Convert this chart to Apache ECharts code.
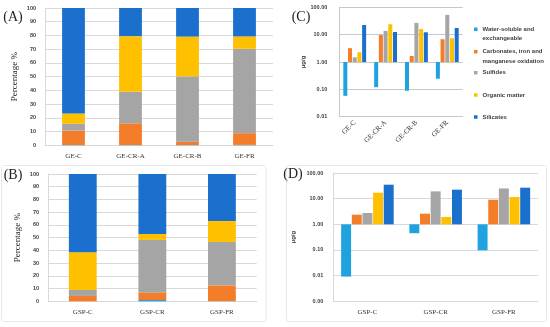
<!DOCTYPE html>
<html><head><meta charset="utf-8">
<script src="https://cdn.jsdelivr.net/npm/echarts@6/dist/echarts.min.js"></script>
<style>html,body{margin:0;padding:0;background:#fff}#c{width:550px;height:327px}</style>
</head><body><div id="c"></div>
<script>
// ---- data ----
const fractions = ['Water-soluble and exchangeable','Carbonates, iron and manganese oxidation','Sulfides','Organic matter','Silicates'];
const legendText = ['\nWater-soluble and\nexchangeable','\nCarbonates, iron and\nmanganese oxidation','Sulfides','Organic matter','Silicates'];
const colors = ['#1FA2DE','#F47D2A','#A5A5A5','#FFC000','#1A70CC'];

const catsGE = ['GE-C','GE-CR-A','GE-CR-B','GE-FR'];
const catsGSP = ['GSP-C','GSP-CR','GSP-FR'];

// Panel A: percentage (%)
const pctA_water = [0.2, 0.2, 0.15, 0.3];
const pctA_carb  = [10.5, 15.8, 2.5, 8.5];
const pctA_sulf  = [5, 23, 47.5, 61.5];
const pctA_org   = [7.5, 40.5, 29, 9];
const pctA_sil   = [76.8, 20.5, 20.85, 20.7];

// Panel B: percentage (%)
const pctB_water = [0.02, 1, 0.13];
const pctB_carb  = [4.2, 5.8, 12.4];
const pctB_sulf  = [4.7, 41.4, 34.1];
const pctB_org   = [29.6, 4.7, 16.4];
const pctB_sil   = [61.48, 47.1, 36.97];

// Panel C: concentration (µg/g)
const concC_water = [0.058, 0.12, 0.089, 0.245];
const concC_carb  = [3.2, 9.7, 1.66, 6.8];
const concC_sulf  = [1.48, 13.7, 27, 52.6];
const concC_org   = [2.27, 24, 16, 7.4];
const concC_sil   = [22.6, 12.5, 12.2, 17.6];

// Panel D: concentration (µg/g)
const concD_water = [0.0092, 0.45, 0.097];
const concD_carb  = [2.38, 2.6, 9.1];
const concD_sulf  = [2.77, 19.2, 25];
const concD_org   = [17, 1.94, 11.6];
const concD_sil   = [35, 22.4, 26.8];

// ---- chart ----
const chart = echarts.init(document.getElementById('c'), null, {renderer:'canvas'});
const serif = 'Liberation Serif';
const sans = 'Liberation Sans';
const tickFont = {fontSize:5.5, fontWeight:'bold', fontFamily:sans, color:'#404040'};
const catFont = {fontSize:7, fontFamily:serif, color:'#333'};
const gridCol = '#D9D9D9';

const setsA = [pctA_water,pctA_carb,pctA_sulf,pctA_org,pctA_sil];
const setsB = [pctB_water,pctB_carb,pctB_sulf,pctB_org,pctB_sil];
const setsC = [concC_water,concC_carb,concC_sulf,concC_org,concC_sil];
const setsD = [concD_water,concD_carb,concD_sulf,concD_org,concD_sil];

const series = [];
setsA.forEach((d,i)=>series.push({type:'bar',name:fractions[i],xAxisIndex:0,yAxisIndex:0,stack:'A',barWidth:'40%',data:d,itemStyle:{color:colors[i]},silent:true}));
setsB.forEach((d,i)=>series.push({type:'bar',name:fractions[i],xAxisIndex:1,yAxisIndex:1,stack:'B',barWidth:'40%',data:d,itemStyle:{color:colors[i]},silent:true}));
setsC.forEach((d,i)=>series.push({type:'bar',name:fractions[i],xAxisIndex:2,yAxisIndex:2,barGap:'17%',barCategoryGap:'26%',data:d,itemStyle:{color:colors[i]},silent:true}));
setsD.forEach((d,i)=>series.push({type:'bar',name:fractions[i],xAxisIndex:3,yAxisIndex:3,barGap:'7%',barCategoryGap:'23%',data:d,itemStyle:{color:colors[i]},silent:true}));

const legendY = [29.3, 51.7, 72.7, 95, 117];
const lh = 9.4;
const legends = fractions.map((f,i)=>{
  const lines = legendText[i].split('\n').length;
  return {
    data:[f], orient:'vertical', left:474, top: legendY[i] - lines*lh/2, padding:0,
    itemWidth:3.5, itemHeight:3.5, itemGap:3, icon:'rect', selectedMode:false,
    formatter:()=>legendText[i],
    textStyle:{fontSize:6, fontWeight:'bold', fontFamily:sans, color:'#404040', lineHeight:lh}
  };
});

const pctAxis = (name,gap)=>({type:'value',min:0,max:100,interval:10,
  axisLabel:Object.assign({margin:9},tickFont),
  axisLine:{show:true,lineStyle:{color:gridCol}},axisTick:{show:false},
  splitLine:{lineStyle:{color:gridCol,width:1}},
  name:name,nameLocation:'middle',nameGap:gap,
  nameTextStyle:{fontFamily:serif,fontSize:9,color:'#222'}});
const logAxis = (min,gap,lab,col)=>({type:'log',logBase:10,min:min,max:100,
  axisLabel:Object.assign({margin:lab,formatter:v=>Number(v).toFixed(2)},tickFont),
  axisLine:{show:true,lineStyle:{color:col}},axisTick:{show:false},
  splitLine:{lineStyle:{color:col,width:1}},
  name:'μg/g',nameLocation:'middle',nameGap:gap,
  nameTextStyle:{fontFamily:sans,fontWeight:'bold',fontSize:6,color:'#404040'}});

chart.setOption({
  animation:false,
  grid:[
    {left:45,top:8,width:228,height:137.3},
    {left:48,top:174,width:208.7,height:127.3},
    {left:339.3,top:7.3,width:123.4,height:109.4},
    {left:333.3,top:173,width:204.7,height:128.3}
  ],
  xAxis:[
    {type:'category',gridIndex:0,data:catsGE,axisTick:{show:false},axisLine:{lineStyle:{color:gridCol}},axisLabel:Object.assign({margin:7},catFont)},
    {type:'category',gridIndex:1,data:catsGSP,axisTick:{show:false},axisLine:{lineStyle:{color:gridCol}},axisLabel:Object.assign({margin:7},catFont)},
    {type:'category',gridIndex:2,data:catsGE,axisTick:{show:false},axisLine:{lineStyle:{color:'#C8C8C8'}},axisLabel:Object.assign({margin:5,rotate:45},catFont)},
    {type:'category',gridIndex:3,data:catsGSP,axisTick:{show:false},axisLine:{lineStyle:{color:gridCol}},axisLabel:Object.assign({margin:7},catFont)}
  ],
  yAxis:[
    Object.assign(pctAxis('Percentage %',26),{gridIndex:0}),
    Object.assign(pctAxis('Percentage %',26),{gridIndex:1}),
    Object.assign(logAxis(0.01,31,12,'#C8C8C8'),{gridIndex:2}),
    Object.assign(logAxis(0.001,37,10,gridCol),{gridIndex:3})
  ],
  legend:legends,
  graphic:[
    {type:'rect',shape:{x:1.5,y:165.5,width:264.5,height:156,r:2},style:{fill:'none',stroke:'#E8E8E8',lineWidth:1},silent:true},
    {type:'rect',shape:{x:286.5,y:165.5,width:260,height:156,r:2},style:{fill:'none',stroke:'#E8E8E8',lineWidth:1},silent:true},
    {type:'text',x:13,y:17,style:{text:'(A)',font:'14px "Liberation Serif"',fill:'#222',textAlign:'center',textVerticalAlign:'middle'}},
    {type:'text',x:13,y:175,style:{text:'(B)',font:'14px "Liberation Serif"',fill:'#222',textAlign:'center',textVerticalAlign:'middle'}},
    {type:'text',x:301,y:17,style:{text:'(C)',font:'14px "Liberation Serif"',fill:'#222',textAlign:'center',textVerticalAlign:'middle'}},
    {type:'text',x:293,y:174,style:{text:'(D)',font:'14px "Liberation Serif"',fill:'#222',textAlign:'center',textVerticalAlign:'middle'}}
  ],
  series:series
});
</script>
</body></html>
